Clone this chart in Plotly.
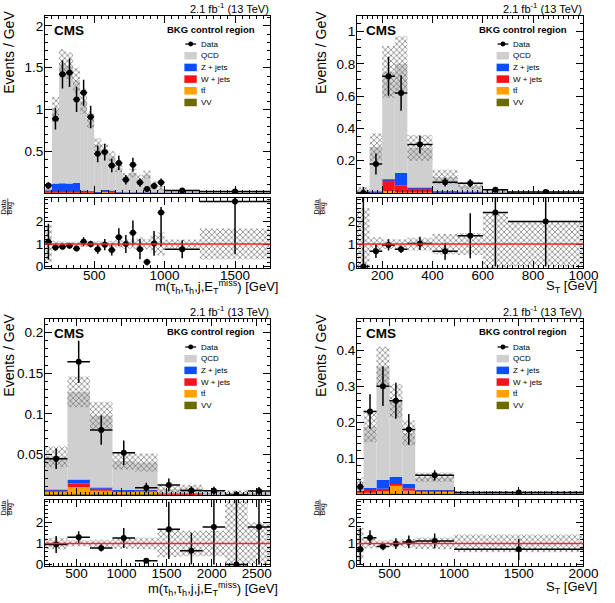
import numpy as np
import plotly.graph_objects as go

FONT = "Liberation Sans, Arial, Helvetica, sans-serif"
W, H = 615, 603

COL_QCD, COL_Z, COL_W, COL_TT, COL_VV = "#cfcfcf", "#0b4dff", "#f5141e", "#ffa200", "#6b6b00"

# ---------------- Panel 1 : m(tau_h,tau_h,j,MET) ----------------
p1_edges = [150, 200, 250, 300, 350, 400, 450, 500, 550, 600, 650, 700, 750, 800, 850, 900, 950, 1000, 1250, 1750]
p1_vv = [0.002]*17 + [0.001, 0.0005]
p1_tt = [0.002, 0.002, 0.002, 0.002, 0.002, 0.002, 0.002, 0.002, 0.015, 0.003, 0.002, 0.001, 0.001, 0.001, 0.001, 0.001, 0.001, 0.001, 0.0005]
p1_w = [0.02, 0.015, 0.012, 0.015, 0.015, 0.02, 0.015, 0.004, 0.004, 0.02, 0.003, 0.002, 0.002, 0.002, 0.002, 0.002, 0.001, 0.001, 0.0005]
p1_z = [0.006, 0.095, 0.1, 0.095, 0.105, 0.004, 0.004, 0.004, 0.02, 0.004, 0.003, 0.002, 0.002, 0.002, 0.002, 0.002, 0.001, 0.001, 0.0005]
p1_qcd = [0.03, 0.886, 1.434, 1.406, 1.226, 1.072, 0.857, 0.568, 0.479, 0.411, 0.29, 0.193, 0.233, 0.163, 0.213, 0.093, 0.05, 0.031, 0.006]
p1_unc = [0.05, 0.15, 0.17, 0.16, 0.15, 0.15, 0.1, 0.08, 0.07, 0.06, 0.05, 0.04, 0.05, 0.05, 0.05, 0.04, 0.028, 0.007, 0.0055]
p1_data = [0.09, 0.89, 1.42, 1.44, 1.12, 1.20, 0.91, 0.47, 0.49, 0.33, 0.36, 0.16, 0.34, 0.125, 0.05, 0.085, 0.125, 0.03, 0.02]
p1_derr = [0.04, 0.13, 0.17, 0.17, 0.15, 0.155, 0.135, 0.1, 0.1, 0.08, 0.085, 0.057, 0.082, 0.05, 0.03, 0.04, 0.05, 0.011, 0.006]
p1_ratio = [1.1, 0.85, 0.88, 0.92, 0.8, 1.1, 1.0, 0.77, 0.97, 0.74, 1.3, 1.0, 1.5, 0.77, 0.2, 1.03, 2.4, 0.77, 2.9]
p1_rup = [0.8, 0.15, 0.12, 0.12, 0.12, 0.2, 0.15, 0.2, 0.25, 0.25, 0.4, 0.4, 0.55, 0.45, 0.15, 0.55, 0.25, 0.4, 0.2]
p1_rdn = [0.8, 0.15, 0.12, 0.12, 0.12, 0.2, 0.15, 0.2, 0.25, 0.25, 0.4, 0.4, 0.55, 0.45, 0.15, 0.55, 1.5, 0.4, 2.35]

# ---------------- Panel 2 : S_T ----------------
p2_edges = [100, 150, 200, 250, 300, 400, 500, 600, 700, 1000]
p2_vv = [0.001, 0.001, 0.001, 0.001, 0.001, 0.001, 0.001, 0.0005, 0.0002]
p2_tt = [0.001, 0.001, 0.01, 0.003, 0.002, 0.001, 0.001, 0.0005, 0.0002]
p2_w = [0.001, 0.001, 0.07, 0.045, 0.028, 0.001, 0.004, 0.0005, 0.0002]
p2_z = [0.005, 0.007, 0.005, 0.075, 0.002, 0.008, 0.002, 0.0005, 0.0002]
p2_qcd = [0.007, 0.275, 0.664, 0.676, 0.247, 0.089, 0.037, 0.006, 0.0022]
p2_unc = [0.024, 0.085, 0.16, 0.17, 0.08, 0.045, 0.022, 0.011, 0.003]
p2_data = [0.0, 0.18, 0.723, 0.62, 0.30, 0.067, 0.061, 0.02, 0.006]
p2_dup = [0.037, 0.065, 0.12, 0.11, 0.055, 0.026, 0.025, 0.014, 0.0045]
p2_ddn = [0.0, 0.065, 0.12, 0.11, 0.055, 0.026, 0.025, 0.014, 0.0045]
p2_ratio = [0.0, 0.68, 0.96, 0.77, 1.03, 0.68, 1.37, 2.4, 2.0]
p2_rup = [3.1, 0.3, 0.25, 0.17, 0.3, 0.38, 1.0, 0.7, 1.05]
p2_rdn = [0.0, 0.3, 0.25, 0.17, 0.3, 0.38, 1.0, 2.4, 2.0]

# ---------------- Panel 3 : m(tau_h,tau_h,j,j,MET) ----------------
p3_edges = [150, 400, 650, 900, 1150, 1400, 1650, 1900, 2150, 2400, 2650]
p3_vv = [0.001, 0.001, 0.001, 0.001, 0.001, 0.0005, 0.0005, 0.0003, 0.0002, 0.0002]
p3_tt = [0.004, 0.009, 0.005, 0.003, 0.003, 0.001, 0.001, 0.0005, 0.0003, 0.0003]
p3_w = [0.001, 0.0045, 0.002, 0.001, 0.002, 0.0002, 0.0002, 0.0002, 0.0001, 0.0001]
p3_z = [0.0005, 0.0045, 0.001, 0.0015, 0.0003, 0.0002, 0.0002, 0.0002, 0.0001, 0.0001]
p3_qcd = [0.0405, 0.108, 0.089, 0.0355, 0.0337, 0.0051, 0.0061, 0.0018, 0.0013, 0.0021]
p3_unc = [0.0127, 0.019, 0.017, 0.0105, 0.011, 0.0046, 0.0048, 0.0018, 0.004, 0.0028]
p3_data = [0.0447, 0.164, 0.080, 0.052, 0.009, 0.0122, 0.0057, 0.0053, 0.0, 0.005]
p3_dup = [0.0125, 0.026, 0.018, 0.015, 0.006, 0.008, 0.005, 0.005, 0.005, 0.005]
p3_ddn = [0.0125, 0.026, 0.018, 0.015, 0.006, 0.008, 0.005, 0.005, 0.0, 0.005]
p3_ratio = [0.95, 1.29, 0.79, 1.26, 0.18, 1.67, 0.65, 1.77, 0.0, 1.77]
p3_rup = [0.4, 0.28, 0.17, 0.47, 0.1, 1.3, 0.85, 1.3, 3.1, 1.3]
p3_rdn = [0.4, 0.28, 0.17, 0.47, 0.1, 1.4, 0.65, 1.77, 0.0, 1.77]

# ---------------- Panel 4 : S_T ----------------
p4_edges = [250, 300, 400, 500, 600, 700, 1000, 2000]
p4_vv = [0.001, 0.001, 0.001, 0.001, 0.001, 0.001, 0.0005]
p4_tt = [0.003, 0.005, 0.006, 0.024, 0.008, 0.008, 0.001]
p4_w = [0.003, 0.005, 0.008, 0.003, 0.007, 0.001, 0.0002]
p4_z = [0.002, 0.006, 0.025, 0.02, 0.012, 0.001, 0.0002]
p4_qcd = [0.018, 0.171, 0.315, 0.212, 0.142, 0.036, 0.0041]
p4_unc = [0.02, 0.044, 0.055, 0.046, 0.035, 0.013, 0.0025]
p4_data = [0.02, 0.23, 0.30, 0.26, 0.18, 0.052, 0.0045]
p4_derr = [0.015, 0.048, 0.055, 0.05, 0.043, 0.014, 0.002]
p4_ratio = [0.73, 1.27, 0.85, 0.99, 1.07, 1.12, 0.72]
p4_rup = [1.0, 0.35, 0.17, 0.25, 0.3, 0.35, 0.5]
p4_rdn = [0.73, 0.35, 0.17, 0.25, 0.3, 0.35, 0.5]

XT_MTTJ = "m(τ<sub>h</sub>,τ<sub>h</sub>,j,E<sub>T</sub><sup>miss</sup>) [GeV]"
XT_MTTJJ = "m(τ<sub>h</sub>,τ<sub>h</sub>,j,j,E<sub>T</sub><sup>miss</sup>) [GeV]"
XT_ST = "S<sub>T</sub> [GeV]"

panels = [
    dict(frame=(46, 277, 16, 195, 200, 271), edges=p1_edges, vv=p1_vv, tt=p1_tt, w=p1_w, z=p1_z, qcd=p1_qcd,
         unc=p1_unc, data=p1_data, dup=p1_derr, ddn=p1_derr, ratio=p1_ratio, rup=p1_rup, rdn=p1_rdn,
         xr=[150, 1750], yr=[0, 2.12], ytv=[0.5, 1, 1.5, 2], ytt=["0.5", "1", "1.5", "2"], ymin=0.1,
         xtv=[500, 1000, 1500], xmin=50, xtitle=XT_MTTJ, xty=289.5, xtoff=10, rdy=9),
    dict(frame=(366, 598, 16, 195, 200, 271), edges=p2_edges, vv=p2_vv, tt=p2_tt, w=p2_w, z=p2_z, qcd=p2_qcd,
         unc=p2_unc, data=p2_data, dup=p2_dup, ddn=p2_ddn, ratio=p2_ratio, rup=p2_rup, rdn=p2_rdn,
         xr=[100, 1000], yr=[0, 1.097], ytv=[0.2, 0.4, 0.6, 0.8, 1.0], ytt=["0.2", "0.4", "0.6", "0.8", "1"], ymin=0.05,
         xtv=[200, 400, 600, 800, 1000], xmin=20, xtitle=XT_ST, xty=289.5, xtoff=16, rdy=9),
    dict(frame=(46, 277, 322, 500, 505, 572), edges=p3_edges, vv=p3_vv, tt=p3_tt, w=p3_w, z=p3_z, qcd=p3_qcd,
         unc=p3_unc, data=p3_data, dup=p3_dup, ddn=p3_ddn, ratio=p3_ratio, rup=p3_rup, rdn=p3_rdn,
         xr=[150, 2650], yr=[0, 0.217], ytv=[0.05, 0.1, 0.15, 0.2], ytt=["0.05", "0.1", "0.15", "0.2"], ymin=0.01,
         xtv=[500, 1000, 1500, 2000, 2500], xmin=50, xtitle=XT_MTTJJ, xty=594.5, xtoff=10, rdy=8),
    dict(frame=(366, 598, 322, 499, 505, 572), edges=p4_edges, vv=p4_vv, tt=p4_tt, w=p4_w, z=p4_z, qcd=p4_qcd,
         unc=p4_unc, data=p4_data, dup=p4_derr, ddn=p4_derr, ratio=p4_ratio, rup=p4_rup, rdn=p4_rdn,
         xr=[250, 2000], yr=[0, 0.488], ytv=[0.1, 0.2, 0.3, 0.4], ytt=["0.1", "0.2", "0.3", "0.4"], ymin=0.02,
         xtv=[500, 1000, 1500, 2000], xmin=50, xtitle=XT_ST, xty=593.5, xtoff=16, rdy=8),
]


def px(x):
    return x / W


def py(y):
    return 1 - y / H


fig = go.Figure()
layout = {}
annotations = []
shapes = []

axis_common = dict(showline=True, linecolor="black", linewidth=1, mirror="ticks", ticks="inside",
                   ticklen=7, tickcolor="black", tickwidth=1, showgrid=False, zeroline=False,
                   tickfont=dict(family=FONT, size=13.5, color="black"))

hatch = dict(shape="x", fgcolor="#7a7a7a", bgcolor="rgba(0,0,0,0)", size=4, solidity=0.35, fillmode="replace")

for i, p in enumerate(panels):
    m, r = 2 * i + 1, 2 * i + 2
    L, R, T, B, RT, RB = p["frame"]
    edges = np.array(p["edges"], dtype=float)
    cen = 0.5 * (edges[1:] + edges[:-1])
    wid = edges[1:] - edges[:-1]
    xm, ym, xr_, yr_ = f"x{m}", f"y{m}", f"x{r}", f"y{r}"

    comps = [(p["vv"], COL_VV), (p["tt"], COL_TT), (p["w"], COL_W), (p["z"], COL_Z), (p["qcd"], COL_QCD)]
    base = np.zeros(len(cen))
    for vals, col in comps:
        v = np.array(vals, dtype=float)
        fig.add_trace(go.Bar(x=cen, y=v, base=base.copy(), width=wid, xaxis=xm, yaxis=ym,
                             marker=dict(color=col, line=dict(width=0)), showlegend=False, hoverinfo="skip"))
        base = base + v
    total = base
    unc = np.array(p["unc"], dtype=float)
    fig.add_trace(go.Bar(x=cen, y=2 * unc, base=total - unc, width=wid, xaxis=xm, yaxis=ym,
                         marker=dict(color="rgba(0,0,0,0)", line=dict(width=0), pattern=hatch),
                         showlegend=False, hoverinfo="skip"))
    fig.add_trace(go.Scatter(x=cen, y=p["data"], xaxis=xm, yaxis=ym, mode="markers",
                             marker=dict(color="black", size=6),
                             error_y=dict(type="data", symmetric=False, array=p["dup"], arrayminus=p["ddn"],
                                          color="black", thickness=1.5, width=0),
                             error_x=dict(type="data", array=wid / 2, color="black", thickness=1.5, width=0),
                             showlegend=False))

    rel = unc / total
    fig.add_trace(go.Bar(x=cen, y=2 * rel, base=1 - rel, width=wid, xaxis=xr_, yaxis=yr_,
                         marker=dict(color="rgba(0,0,0,0)", line=dict(width=0), pattern=hatch),
                         showlegend=False, hoverinfo="skip"))
    shapes.append(dict(type="line", xref=f"{xr_} domain", x0=0, x1=1, yref=yr_, y0=1, y1=1,
                       line=dict(color="#ff2020", width=1.5), layer="above"))
    fig.add_trace(go.Scatter(x=cen, y=p["ratio"], xaxis=xr_, yaxis=yr_, mode="markers",
                             marker=dict(color="black", size=6),
                             error_y=dict(type="data", symmetric=False, array=p["rup"], arrayminus=p["rdn"],
                                          color="black", thickness=1.5, width=0),
                             error_x=dict(type="data", array=wid / 2, color="black", thickness=1.5, width=0),
                             showlegend=False))

    dom_x = [px(L), px(R)]
    layout[f"xaxis{m}"] = dict(axis_common, domain=dom_x, anchor=ym, range=p["xr"], showticklabels=False,
                               tickmode="array", tickvals=p["xtv"],
                               minor=dict(ticks="inside", ticklen=3.5, tickcolor="black", dtick=p["xmin"], tick0=0))
    layout[f"yaxis{m}"] = dict(axis_common, domain=[py(B), py(T)], anchor=xm, range=p["yr"],
                               tickmode="array", tickvals=p["ytv"], ticktext=p["ytt"], ticklabelstandoff=-2,
                               minor=dict(ticks="inside", ticklen=3.5, tickcolor="black", dtick=p["ymin"], tick0=0))
    layout[f"xaxis{r}"] = dict(axis_common, domain=dom_x, anchor=yr_, range=p["xr"],
                               tickmode="array", tickvals=p["xtv"], ticktext=[str(v) for v in p["xtv"]],
                               ticklabelstandoff=-6,
                               minor=dict(ticks="inside", ticklen=3.5, tickcolor="black", dtick=p["xmin"], tick0=0))
    layout[f"yaxis{r}"] = dict(axis_common, domain=[py(RB), py(RT)], anchor=xr_, range=[-0.08, 3.05],
                               tickmode="array", tickvals=[0, 1, 2], ticktext=["0", "1", "2"], ticklabelstandoff=-2,
                               minor=dict(ticks="inside", ticklen=3.5, tickcolor="black", dtick=0.2, tick0=0))

    # texts
    rdy = p["rdy"]
    annotations += [
        dict(x=px(R + 1), y=py(T - 7.5), xref="paper", yref="paper", xanchor="right", yanchor="middle",
             text="2.1 fb<sup>-1</sup> (13 TeV)", font=dict(family=FONT, size=11, color="black"), showarrow=False),
        dict(x=px(L + 7), y=py(T + 14.5), xref="paper", yref="paper", xanchor="left", yanchor="middle",
             text="<b>CMS</b>", font=dict(family=FONT, size=13.5, color="black"), showarrow=False),
        dict(x=px(L + 217), y=py(T + 13.3), xref="paper", yref="paper", xanchor="right", yanchor="middle",
             text="<b>BKG control region</b>", font=dict(family=FONT, size=9.5, color="black"), showarrow=False),
        dict(x=px(L - 36.5), y=py(T + 37), xref="paper", yref="paper", xanchor="center", yanchor="middle",
             textangle=-90, text="Events / GeV", font=dict(family=FONT, size=14, color="black"), showarrow=False),
        dict(x=px(L - 41.5), y=py(RT + rdy), xref="paper", yref="paper", xanchor="center", yanchor="middle",
             textangle=-90, text="Data", font=dict(family=FONT, size=7, color="black"), showarrow=False,
             borderpad=0),
        dict(x=px(L - 35), y=py(RT + rdy + 1.5), xref="paper", yref="paper", xanchor="center", yanchor="middle",
             textangle=-90, text="Bkg", font=dict(family=FONT, size=7, color="black"), showarrow=False,
             borderpad=0),
        dict(x=px(R + p["xtoff"]), y=py(p["xty"]), xref="paper", yref="paper", xanchor="right", yanchor="middle",
             text=p["xtitle"], font=dict(family=FONT, size=13, color="black"), showarrow=False),
    ]
    shapes.append(dict(type="line", xref="paper", yref="paper", x0=px(L - 38), x1=px(L - 38),
                       y0=py(RT + rdy - 8.5), y1=py(RT + rdy + 8.5), line=dict(color="black", width=0.7)))
    # legend
    lx = L + 143
    rows = [("Data", None), ("QCD", COL_QCD), ("Z + jets", COL_Z), ("W + jets", COL_W),
            ("tt\u0304", COL_TT), ("VV", COL_VV)]
    for j, (lab, col) in enumerate(rows):
        yc = T + 28.5 + 11.8 * j
        if col is None:
            shapes.append(dict(type="line", xref="paper", yref="paper", x0=px(lx + 1), x1=px(lx + 12),
                               y0=py(yc), y1=py(yc), line=dict(color="black", width=1.3)))
            shapes.append(dict(type="circle", xref="paper", yref="paper", x0=px(lx + 4), x1=px(lx + 9),
                               y0=py(yc - 2.5), y1=py(yc + 2.5), fillcolor="black", line=dict(width=0)))
        else:
            shapes.append(dict(type="rect", xref="paper", yref="paper", x0=px(lx), x1=px(lx + 12.7),
                               y0=py(yc - 3.8), y1=py(yc + 3.8), fillcolor=col, line=dict(width=0)))
        annotations.append(dict(x=px(lx + 14.5), y=py(yc), xref="paper", yref="paper", xanchor="left",
                                yanchor="middle", text=lab, font=dict(family=FONT, size=8, color="black"),
                                showarrow=False))

fig.update_layout(width=W, height=H, margin=dict(l=0, r=0, t=0, b=0), paper_bgcolor="white",
                  plot_bgcolor="white", barmode="overlay", showlegend=False,
                  font=dict(family=FONT, color="black"), annotations=annotations, shapes=shapes, **layout)

fig.write_html("out.html")
